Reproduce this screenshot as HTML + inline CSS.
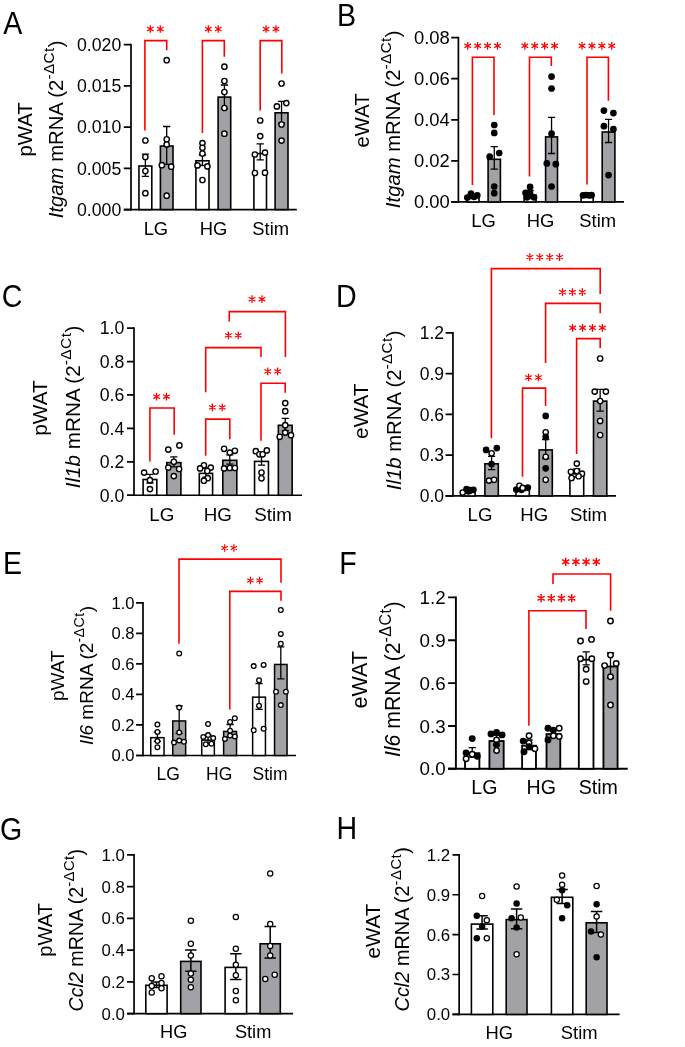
<!DOCTYPE html>
<html><head><meta charset="utf-8"><style>
html,body{margin:0;padding:0;background:#fff;}
svg{display:block;will-change:transform;}
text{font-family:"Liberation Sans", sans-serif;fill:#000;}
</style></head><body>
<svg width="685" height="1047" viewBox="0 0 685 1047">
<rect width="685" height="1047" fill="#fff"/>
<text transform="translate(3.2 33.8) scale(1 1.07)" font-size="28.6">A</text>
<path d="M131 43.8V210.4" stroke="#000" stroke-width="1.7" fill="none"/>
<path d="M123.8 209.55H296.8" stroke="#000" stroke-width="1.7" fill="none"/>
<path d="M123.8 209.55H131M123.8 168.33H131M123.8 127.1H131M123.8 85.88H131M123.8 44.65H131" stroke="#000" stroke-width="1.7" fill="none"/>
<text x="121.3" y="215.83" font-size="17.7" text-anchor="end">0.000</text>
<text x="121.3" y="174.61" font-size="17.7" text-anchor="end">0.005</text>
<text x="121.3" y="133.38" font-size="17.7" text-anchor="end">0.010</text>
<text x="121.3" y="92.16" font-size="17.7" text-anchor="end">0.015</text>
<text x="121.3" y="50.93" font-size="17.7" text-anchor="end">0.020</text>
<text transform="translate(31.8 129.4) rotate(-90)" font-size="20.4" text-anchor="middle">pWAT</text>
<text transform="translate(62.8 129.4) rotate(-90)" font-size="20.29" text-anchor="middle"><tspan font-style="italic">Itgam</tspan> mRNA (2<tspan dy="-8.83" font-size="15.22" letter-spacing="0.46">-&#916;Ct</tspan><tspan dy="8.83">)</tspan></text>
<text x="155.9" y="234.5" font-size="18.4" text-anchor="middle">LG</text>
<text x="213.6" y="234.5" font-size="18.4" text-anchor="middle">HG</text>
<text x="270.7" y="234.5" font-size="18.4" text-anchor="middle">Stim</text>
<rect x="138.95" y="166" width="12.85" height="43.55" fill="#fff" stroke="#000" stroke-width="1.6"/>
<rect x="160.4" y="146" width="12.6" height="63.55" fill="#a2a2a6" stroke="#000" stroke-width="1.6"/>
<rect x="195.9" y="160.8" width="13.1" height="48.75" fill="#fff" stroke="#000" stroke-width="1.6"/>
<rect x="218.1" y="97.1" width="12.6" height="112.45" fill="#a2a2a6" stroke="#000" stroke-width="1.6"/>
<rect x="253.9" y="153.6" width="12.6" height="55.95" fill="#fff" stroke="#000" stroke-width="1.6"/>
<rect x="275.1" y="112.8" width="12.9" height="96.75" fill="#a2a2a6" stroke="#000" stroke-width="1.6"/>
<path d="M145.38 154.1V176.4M141.78 154.1H148.97M141.78 176.4H148.97" stroke="#000" stroke-width="1.3" fill="none"/>
<path d="M166.7 126.5V164.3M163.1 126.5H170.3M163.1 164.3H170.3" stroke="#000" stroke-width="1.3" fill="none"/>
<path d="M202.45 155V165.5M198.85 155H206.05M198.85 165.5H206.05" stroke="#000" stroke-width="1.3" fill="none"/>
<path d="M224.4 85V108.8M220.8 85H228M220.8 108.8H228" stroke="#000" stroke-width="1.3" fill="none"/>
<path d="M260.2 143.8V159.8M256.6 143.8H263.8M256.6 159.8H263.8" stroke="#000" stroke-width="1.3" fill="none"/>
<path d="M281.55 101.4V123.2M277.95 101.4H285.15M277.95 123.2H285.15" stroke="#000" stroke-width="1.3" fill="none"/>
<circle cx="145.38" cy="140.5" r="2.65" fill="#fff" stroke="#000" stroke-width="1.4"/>
<circle cx="145.38" cy="157" r="2.65" fill="#fff" stroke="#000" stroke-width="1.4"/>
<circle cx="145.38" cy="171" r="2.65" fill="#fff" stroke="#000" stroke-width="1.4"/>
<circle cx="145.38" cy="193.2" r="2.65" fill="#fff" stroke="#000" stroke-width="1.4"/>
<circle cx="166.7" cy="60.2" r="2.65" fill="#fff" stroke="#000" stroke-width="1.4"/>
<circle cx="166.7" cy="139.3" r="2.65" fill="#fff" stroke="#000" stroke-width="1.4"/>
<circle cx="166.7" cy="144.4" r="2.65" fill="#fff" stroke="#000" stroke-width="1.4"/>
<circle cx="161.9" cy="165.2" r="2.65" fill="#fff" stroke="#000" stroke-width="1.4"/>
<circle cx="171.2" cy="166.7" r="2.65" fill="#fff" stroke="#000" stroke-width="1.4"/>
<circle cx="166.7" cy="195.7" r="2.65" fill="#fff" stroke="#000" stroke-width="1.4"/>
<circle cx="202.45" cy="143.1" r="2.65" fill="#fff" stroke="#000" stroke-width="1.4"/>
<circle cx="202.45" cy="147.8" r="2.65" fill="#fff" stroke="#000" stroke-width="1.4"/>
<circle cx="202.45" cy="153.5" r="2.65" fill="#fff" stroke="#000" stroke-width="1.4"/>
<circle cx="197.5" cy="165.4" r="2.65" fill="#fff" stroke="#000" stroke-width="1.4"/>
<circle cx="207.4" cy="166.4" r="2.65" fill="#fff" stroke="#000" stroke-width="1.4"/>
<circle cx="202.45" cy="180" r="2.65" fill="#fff" stroke="#000" stroke-width="1.4"/>
<circle cx="224.4" cy="66.7" r="2.65" fill="#fff" stroke="#000" stroke-width="1.4"/>
<circle cx="224.4" cy="81" r="2.65" fill="#fff" stroke="#000" stroke-width="1.4"/>
<circle cx="224.4" cy="92" r="2.65" fill="#fff" stroke="#000" stroke-width="1.4"/>
<circle cx="224.4" cy="108" r="2.65" fill="#fff" stroke="#000" stroke-width="1.4"/>
<circle cx="224.4" cy="133.7" r="2.65" fill="#fff" stroke="#000" stroke-width="1.4"/>
<circle cx="260.2" cy="120.5" r="2.65" fill="#fff" stroke="#000" stroke-width="1.4"/>
<circle cx="260.2" cy="136.1" r="2.65" fill="#fff" stroke="#000" stroke-width="1.4"/>
<circle cx="254.9" cy="154.5" r="2.65" fill="#fff" stroke="#000" stroke-width="1.4"/>
<circle cx="265" cy="152.6" r="2.65" fill="#fff" stroke="#000" stroke-width="1.4"/>
<circle cx="254.9" cy="173" r="2.65" fill="#fff" stroke="#000" stroke-width="1.4"/>
<circle cx="265" cy="172.7" r="2.65" fill="#fff" stroke="#000" stroke-width="1.4"/>
<circle cx="281.55" cy="83.5" r="2.65" fill="#fff" stroke="#000" stroke-width="1.4"/>
<circle cx="276.9" cy="106.4" r="2.65" fill="#fff" stroke="#000" stroke-width="1.4"/>
<circle cx="286.3" cy="103.1" r="2.65" fill="#fff" stroke="#000" stroke-width="1.4"/>
<circle cx="281.55" cy="124.5" r="2.65" fill="#fff" stroke="#000" stroke-width="1.4"/>
<circle cx="281.55" cy="140.6" r="2.65" fill="#fff" stroke="#000" stroke-width="1.4"/>
<path d="M144.9 130.4V40.6H166.7V50.3" stroke="#ff0000" stroke-width="1.6" fill="none"/>
<path d="M202.4 133V40.6H224.3V56.7" stroke="#ff0000" stroke-width="1.6" fill="none"/>
<path d="M260.2 110.6V40.6H281.8V73.4" stroke="#ff0000" stroke-width="1.6" fill="none"/>
<path d="M150.35 25.15L150.35 32.85M147.02 27.07L153.68 30.93M153.68 27.07L147.02 30.93M160.25 25.15L160.25 32.85M156.92 27.07L163.58 30.93M163.58 27.07L156.92 30.93" stroke="#ff0000" stroke-width="1.25" fill="none"/>
<path d="M208.35 25.15L208.35 32.85M205.02 27.07L211.68 30.93M211.68 27.07L205.02 30.93M218.25 25.15L218.25 32.85M214.92 27.07L221.58 30.93M221.58 27.07L214.92 30.93" stroke="#ff0000" stroke-width="1.25" fill="none"/>
<path d="M266.05 25.15L266.05 32.85M262.72 27.07L269.38 30.93M269.38 27.07L262.72 30.93M275.95 25.15L275.95 32.85M272.62 27.07L279.28 30.93M279.28 27.07L272.62 30.93" stroke="#ff0000" stroke-width="1.25" fill="none"/>
<text transform="translate(337 26.1) scale(1 1.07)" font-size="28.6">B</text>
<path d="M458.4 36.8V202.8" stroke="#000" stroke-width="1.7" fill="none"/>
<path d="M451.2 201.95H624" stroke="#000" stroke-width="1.7" fill="none"/>
<path d="M451.2 201.95H458.4M451.2 160.88H458.4M451.2 119.8H458.4M451.2 78.72H458.4M451.2 37.65H458.4" stroke="#000" stroke-width="1.7" fill="none"/>
<text x="449.8" y="208.48" font-size="18.4" text-anchor="end">0.00</text>
<text x="449.8" y="167.41" font-size="18.4" text-anchor="end">0.02</text>
<text x="449.8" y="126.33" font-size="18.4" text-anchor="end">0.04</text>
<text x="449.8" y="85.26" font-size="18.4" text-anchor="end">0.06</text>
<text x="449.8" y="44.18" font-size="18.4" text-anchor="end">0.08</text>
<text transform="translate(369.2 120.4) rotate(-90)" font-size="20.3" text-anchor="middle">eWAT</text>
<text transform="translate(400.3 119.3) rotate(-90)" font-size="20.29" text-anchor="middle"><tspan font-style="italic">Itgam</tspan> mRNA (2<tspan dy="-8.83" font-size="15.22" letter-spacing="0.46">-&#916;Ct</tspan><tspan dy="8.83">)</tspan></text>
<text x="483.6" y="226.9" font-size="18.4" text-anchor="middle">LG</text>
<text x="540.6" y="226.9" font-size="18.4" text-anchor="middle">HG</text>
<text x="597.7" y="226.9" font-size="18.4" text-anchor="middle">Stim</text>
<rect x="467" y="197.3" width="12" height="4.65" fill="#fff" stroke="#000" stroke-width="1.6"/>
<rect x="488.1" y="159.3" width="12.3" height="42.65" fill="#a2a2a6" stroke="#000" stroke-width="1.6"/>
<rect x="524.1" y="195.3" width="12" height="6.65" fill="#fff" stroke="#000" stroke-width="1.6"/>
<rect x="545.6" y="136.9" width="11.9" height="65.05" fill="#a2a2a6" stroke="#000" stroke-width="1.6"/>
<rect x="581.1" y="195.8" width="12.1" height="6.15" fill="#fff" stroke="#000" stroke-width="1.6"/>
<rect x="602.2" y="132" width="12.7" height="69.95" fill="#a2a2a6" stroke="#000" stroke-width="1.6"/>
<path d="M473 195V198.5M469.4 195H476.6M469.4 198.5H476.6" stroke="#000" stroke-width="1.3" fill="none"/>
<path d="M494.25 146.6V169.1M490.65 146.6H497.85M490.65 169.1H497.85" stroke="#000" stroke-width="1.3" fill="none"/>
<path d="M530.1 190.5V198M526.5 190.5H533.7M526.5 198H533.7" stroke="#000" stroke-width="1.3" fill="none"/>
<path d="M551.55 117.3V153.5M547.95 117.3H555.15M547.95 153.5H555.15" stroke="#000" stroke-width="1.3" fill="none"/>
<path d="M587.15 194V196M583.55 194H590.75M583.55 196H590.75" stroke="#000" stroke-width="1.3" fill="none"/>
<path d="M608.55 119.3V142.5M604.95 119.3H612.15M604.95 142.5H612.15" stroke="#000" stroke-width="1.3" fill="none"/>
<circle cx="467.3" cy="197.6" r="3.35" fill="#000"/>
<circle cx="471" cy="193.6" r="3.35" fill="#000"/>
<circle cx="474" cy="196.8" r="3.35" fill="#000"/>
<circle cx="477.3" cy="195.3" r="3.35" fill="#000"/>
<circle cx="494.25" cy="125" r="3.35" fill="#000"/>
<circle cx="494.25" cy="132.9" r="3.35" fill="#000"/>
<circle cx="489.7" cy="156.7" r="3.35" fill="#000"/>
<circle cx="499.2" cy="153" r="3.35" fill="#000"/>
<circle cx="494.25" cy="186.5" r="3.35" fill="#000"/>
<circle cx="494.25" cy="193.2" r="3.35" fill="#000"/>
<circle cx="530.1" cy="186.9" r="3.35" fill="#000"/>
<circle cx="525.5" cy="192.8" r="3.35" fill="#000"/>
<circle cx="530.1" cy="193.6" r="3.35" fill="#000"/>
<circle cx="527" cy="197.3" r="3.35" fill="#000"/>
<circle cx="534" cy="197.3" r="3.35" fill="#000"/>
<circle cx="530.1" cy="196" r="3.35" fill="#000"/>
<circle cx="551.55" cy="76.6" r="3.35" fill="#000"/>
<circle cx="551.55" cy="88.5" r="3.35" fill="#000"/>
<circle cx="551.55" cy="133.7" r="3.35" fill="#000"/>
<circle cx="546.8" cy="163.4" r="3.35" fill="#000"/>
<circle cx="555.8" cy="164.2" r="3.35" fill="#000"/>
<circle cx="551.55" cy="186.5" r="3.35" fill="#000"/>
<circle cx="583" cy="195.3" r="3.35" fill="#000"/>
<circle cx="586" cy="195" r="3.35" fill="#000"/>
<circle cx="589" cy="195.3" r="3.35" fill="#000"/>
<circle cx="591.6" cy="195.2" r="3.35" fill="#000"/>
<circle cx="603.9" cy="110.6" r="3.35" fill="#000"/>
<circle cx="613.4" cy="113.1" r="3.35" fill="#000"/>
<circle cx="603.9" cy="126.2" r="3.35" fill="#000"/>
<circle cx="613.4" cy="129.2" r="3.35" fill="#000"/>
<circle cx="608.55" cy="175.1" r="3.35" fill="#000"/>
<path d="M472.4 185V57.2H494V115" stroke="#ff0000" stroke-width="1.6" fill="none"/>
<path d="M529.5 176.6V57.2H551.3V65.9" stroke="#ff0000" stroke-width="1.6" fill="none"/>
<path d="M587 184.5V57.2H608.4V100.7" stroke="#ff0000" stroke-width="1.6" fill="none"/>
<path d="M467.75 41.95L467.75 49.65M464.42 43.88L471.08 47.72M471.08 43.88L464.42 47.72M477.65 41.95L477.65 49.65M474.32 43.88L480.98 47.72M480.98 43.88L474.32 47.72M487.55 41.95L487.55 49.65M484.22 43.88L490.88 47.72M490.88 43.88L484.22 47.72M497.45 41.95L497.45 49.65M494.12 43.88L500.78 47.72M500.78 43.88L494.12 47.72" stroke="#ff0000" stroke-width="1.25" fill="none"/>
<path d="M524.85 41.95L524.85 49.65M521.52 43.88L528.18 47.72M528.18 43.88L521.52 47.72M534.75 41.95L534.75 49.65M531.42 43.88L538.08 47.72M538.08 43.88L531.42 47.72M544.65 41.95L544.65 49.65M541.32 43.88L547.98 47.72M547.98 43.88L541.32 47.72M554.55 41.95L554.55 49.65M551.22 43.88L557.88 47.72M557.88 43.88L551.22 47.72" stroke="#ff0000" stroke-width="1.25" fill="none"/>
<path d="M582.05 41.95L582.05 49.65M578.72 43.88L585.38 47.72M585.38 43.88L578.72 47.72M591.95 41.95L591.95 49.65M588.62 43.88L595.28 47.72M595.28 43.88L588.62 47.72M601.85 41.95L601.85 49.65M598.52 43.88L605.18 47.72M605.18 43.88L598.52 47.72M611.75 41.95L611.75 49.65M608.42 43.88L615.08 47.72M615.08 43.88L608.42 47.72" stroke="#ff0000" stroke-width="1.25" fill="none"/>
<text transform="translate(1.8 307) scale(1 1.07)" font-size="28.6">C</text>
<path d="M134 327.25V496.1" stroke="#000" stroke-width="1.7" fill="none"/>
<path d="M127 495.25H302.1" stroke="#000" stroke-width="1.7" fill="none"/>
<path d="M127 495.25H134M127 461.82H134M127 428.39H134M127 394.96H134M127 361.53H134M127 328.1H134" stroke="#000" stroke-width="1.7" fill="none"/>
<text x="124.3" y="501.53" font-size="17.7" text-anchor="end">0.0</text>
<text x="124.3" y="468.1" font-size="17.7" text-anchor="end">0.2</text>
<text x="124.3" y="434.67" font-size="17.7" text-anchor="end">0.4</text>
<text x="124.3" y="401.24" font-size="17.7" text-anchor="end">0.6</text>
<text x="124.3" y="367.81" font-size="17.7" text-anchor="end">0.8</text>
<text x="124.3" y="334.38" font-size="17.7" text-anchor="end">1.0</text>
<text transform="translate(47 408) rotate(-90)" font-size="20.8" text-anchor="middle">pWAT</text>
<text transform="translate(80 406.9) rotate(-90)" font-size="20.68" text-anchor="middle"><tspan font-style="italic">Il1b</tspan> mRNA (2<tspan dy="-9" font-size="15.51" letter-spacing="0.47">-&#916;Ct</tspan><tspan dy="9">)</tspan></text>
<text x="161.85" y="521" font-size="18.8" text-anchor="middle">LG</text>
<text x="217.85" y="521" font-size="18.8" text-anchor="middle">HG</text>
<text x="273.05" y="521" font-size="18.8" text-anchor="middle">Stim</text>
<rect x="143.1" y="479.5" width="13.7" height="15.75" fill="#fff" stroke="#000" stroke-width="1.6"/>
<rect x="166.8" y="462.6" width="14.1" height="32.65" fill="#a2a2a6" stroke="#000" stroke-width="1.6"/>
<rect x="199.3" y="473.4" width="13.3" height="21.85" fill="#fff" stroke="#000" stroke-width="1.6"/>
<rect x="222.8" y="460.3" width="14" height="34.95" fill="#a2a2a6" stroke="#000" stroke-width="1.6"/>
<rect x="254.55" y="461.4" width="13.9" height="33.85" fill="#fff" stroke="#000" stroke-width="1.6"/>
<rect x="278.35" y="425.3" width="13.8" height="69.95" fill="#a2a2a6" stroke="#000" stroke-width="1.6"/>
<path d="M149.95 474.3V483M146.35 474.3H153.55M146.35 483H153.55" stroke="#000" stroke-width="1.3" fill="none"/>
<path d="M173.85 456.8V466.8M170.25 456.8H177.45M170.25 466.8H177.45" stroke="#000" stroke-width="1.3" fill="none"/>
<path d="M205.95 468V477.2M202.35 468H209.55M202.35 477.2H209.55" stroke="#000" stroke-width="1.3" fill="none"/>
<path d="M229.8 454.9V464.1M226.2 454.9H233.4M226.2 464.1H233.4" stroke="#000" stroke-width="1.3" fill="none"/>
<path d="M261.5 456V465.2M257.9 456H265.1M257.9 465.2H265.1" stroke="#000" stroke-width="1.3" fill="none"/>
<path d="M285.25 418.4V430.6M281.65 418.4H288.85M281.65 430.6H288.85" stroke="#000" stroke-width="1.3" fill="none"/>
<circle cx="144.1" cy="472.6" r="2.65" fill="#fff" stroke="#000" stroke-width="1.4"/>
<circle cx="155.6" cy="471.5" r="2.65" fill="#fff" stroke="#000" stroke-width="1.4"/>
<circle cx="149.95" cy="480.2" r="2.65" fill="#fff" stroke="#000" stroke-width="1.4"/>
<circle cx="149.95" cy="489.1" r="2.65" fill="#fff" stroke="#000" stroke-width="1.4"/>
<circle cx="168.3" cy="449.6" r="2.65" fill="#fff" stroke="#000" stroke-width="1.4"/>
<circle cx="179.4" cy="445.4" r="2.65" fill="#fff" stroke="#000" stroke-width="1.4"/>
<circle cx="173.85" cy="461.8" r="2.65" fill="#fff" stroke="#000" stroke-width="1.4"/>
<circle cx="168.3" cy="467.6" r="2.65" fill="#fff" stroke="#000" stroke-width="1.4"/>
<circle cx="179.1" cy="469" r="2.65" fill="#fff" stroke="#000" stroke-width="1.4"/>
<circle cx="173.85" cy="476.1" r="2.65" fill="#fff" stroke="#000" stroke-width="1.4"/>
<circle cx="203.9" cy="465.3" r="2.65" fill="#fff" stroke="#000" stroke-width="1.4"/>
<circle cx="200.1" cy="468.4" r="2.65" fill="#fff" stroke="#000" stroke-width="1.4"/>
<circle cx="210.8" cy="467.6" r="2.65" fill="#fff" stroke="#000" stroke-width="1.4"/>
<circle cx="207.3" cy="471" r="2.65" fill="#fff" stroke="#000" stroke-width="1.4"/>
<circle cx="207.7" cy="478.2" r="2.65" fill="#fff" stroke="#000" stroke-width="1.4"/>
<circle cx="203.9" cy="480.7" r="2.65" fill="#fff" stroke="#000" stroke-width="1.4"/>
<circle cx="224.1" cy="448.8" r="2.65" fill="#fff" stroke="#000" stroke-width="1.4"/>
<circle cx="234.9" cy="450.8" r="2.65" fill="#fff" stroke="#000" stroke-width="1.4"/>
<circle cx="229.8" cy="452.6" r="2.65" fill="#fff" stroke="#000" stroke-width="1.4"/>
<circle cx="224.1" cy="468.4" r="2.65" fill="#fff" stroke="#000" stroke-width="1.4"/>
<circle cx="229.8" cy="468" r="2.65" fill="#fff" stroke="#000" stroke-width="1.4"/>
<circle cx="234.9" cy="468" r="2.65" fill="#fff" stroke="#000" stroke-width="1.4"/>
<circle cx="255.8" cy="451.2" r="2.65" fill="#fff" stroke="#000" stroke-width="1.4"/>
<circle cx="266.8" cy="450.4" r="2.65" fill="#fff" stroke="#000" stroke-width="1.4"/>
<circle cx="259.4" cy="454.3" r="2.65" fill="#fff" stroke="#000" stroke-width="1.4"/>
<circle cx="262.6" cy="454.3" r="2.65" fill="#fff" stroke="#000" stroke-width="1.4"/>
<circle cx="261.5" cy="472.5" r="2.65" fill="#fff" stroke="#000" stroke-width="1.4"/>
<circle cx="261.5" cy="478.3" r="2.65" fill="#fff" stroke="#000" stroke-width="1.4"/>
<circle cx="285.25" cy="403.1" r="2.65" fill="#fff" stroke="#000" stroke-width="1.4"/>
<circle cx="285.25" cy="411.2" r="2.65" fill="#fff" stroke="#000" stroke-width="1.4"/>
<circle cx="285.25" cy="425.2" r="2.65" fill="#fff" stroke="#000" stroke-width="1.4"/>
<circle cx="285.25" cy="432.6" r="2.65" fill="#fff" stroke="#000" stroke-width="1.4"/>
<circle cx="279.7" cy="436.8" r="2.65" fill="#fff" stroke="#000" stroke-width="1.4"/>
<circle cx="291" cy="435.2" r="2.65" fill="#fff" stroke="#000" stroke-width="1.4"/>
<path d="M229.3 321.5V311.6H285.4V357" stroke="#ff0000" stroke-width="1.6" fill="none"/>
<path d="M205.7 392.3V347.6H261V357" stroke="#ff0000" stroke-width="1.6" fill="none"/>
<path d="M261 440.7V383.3H285.2V392.8" stroke="#ff0000" stroke-width="1.6" fill="none"/>
<path d="M149.9 461.5V408H174.2V434.7" stroke="#ff0000" stroke-width="1.6" fill="none"/>
<path d="M205.7 455.8V419.1H229.8V439.2" stroke="#ff0000" stroke-width="1.6" fill="none"/>
<path d="M252.05 295.35L252.05 303.05M248.72 297.27L255.38 301.12M255.38 297.27L248.72 301.12M261.95 295.35L261.95 303.05M258.62 297.27L265.28 301.12M265.28 297.27L258.62 301.12" stroke="#ff0000" stroke-width="1.25" fill="none"/>
<path d="M228.35 331.55L228.35 339.25M225.02 333.47L231.68 337.32M231.68 333.47L225.02 337.32M238.25 331.55L238.25 339.25M234.92 333.47L241.58 337.32M241.58 333.47L234.92 337.32" stroke="#ff0000" stroke-width="1.25" fill="none"/>
<path d="M267.75 367.55L267.75 375.25M264.42 369.47L271.08 373.32M271.08 369.47L264.42 373.32M277.65 367.55L277.65 375.25M274.32 369.47L280.98 373.32M280.98 369.47L274.32 373.32" stroke="#ff0000" stroke-width="1.25" fill="none"/>
<path d="M156.55 392.85L156.55 400.55M153.22 394.77L159.88 398.62M159.88 394.77L153.22 398.62M166.45 392.85L166.45 400.55M163.12 394.77L169.78 398.62M169.78 394.77L163.12 398.62" stroke="#ff0000" stroke-width="1.25" fill="none"/>
<path d="M212.35 403.55L212.35 411.25M209.02 405.47L215.68 409.32M215.68 405.47L209.02 409.32M222.25 403.55L222.25 411.25M218.92 405.47L225.58 409.32M225.58 405.47L218.92 409.32" stroke="#ff0000" stroke-width="1.25" fill="none"/>
<text transform="translate(336 306.9) scale(1 1.07)" font-size="28.6">D</text>
<path d="M452.95 331.94V496.8" stroke="#000" stroke-width="1.7" fill="none"/>
<path d="M445.55 495.95H616" stroke="#000" stroke-width="1.7" fill="none"/>
<path d="M445.55 495.95H452.95M445.55 455.16H452.95M445.55 414.37H452.95M445.55 373.58H452.95M445.55 332.79H452.95" stroke="#000" stroke-width="1.7" fill="none"/>
<text x="444" y="502.16" font-size="17.5" text-anchor="end">0.0</text>
<text x="444" y="461.37" font-size="17.5" text-anchor="end">0.3</text>
<text x="444" y="420.58" font-size="17.5" text-anchor="end">0.6</text>
<text x="444" y="379.79" font-size="17.5" text-anchor="end">0.9</text>
<text x="444" y="339" font-size="17.5" text-anchor="end">1.2</text>
<text transform="translate(368.4 411.2) rotate(-90)" font-size="20.8" text-anchor="middle">eWAT</text>
<text transform="translate(401 410.3) rotate(-90)" font-size="20.29" text-anchor="middle"><tspan font-style="italic">Il1b</tspan> mRNA (2<tspan dy="-8.83" font-size="15.22" letter-spacing="0.46">-&#916;Ct</tspan><tspan dy="8.83">)</tspan></text>
<text x="480" y="520.7" font-size="18.6" text-anchor="middle">LG</text>
<text x="534.2" y="520.7" font-size="18.6" text-anchor="middle">HG</text>
<text x="588.5" y="520.7" font-size="18.6" text-anchor="middle">Stim</text>
<rect x="461.9" y="492.1" width="13.2" height="3.85" fill="#fff" stroke="#000" stroke-width="1.6"/>
<rect x="484.9" y="463.8" width="13.4" height="32.15" fill="#a2a2a6" stroke="#000" stroke-width="1.6"/>
<rect x="516" y="489" width="13.3" height="6.95" fill="#fff" stroke="#000" stroke-width="1.6"/>
<rect x="539.1" y="449.9" width="13.2" height="46.05" fill="#a2a2a6" stroke="#000" stroke-width="1.6"/>
<rect x="569.9" y="473.8" width="13.8" height="22.15" fill="#fff" stroke="#000" stroke-width="1.6"/>
<rect x="593.5" y="401.1" width="13.3" height="94.85" fill="#a2a2a6" stroke="#000" stroke-width="1.6"/>
<path d="M468.5 489.5V493M464.9 489.5H472.1M464.9 493H472.1" stroke="#000" stroke-width="1.3" fill="none"/>
<path d="M491.6 456.4V469.6M488 456.4H495.2M488 469.6H495.2" stroke="#000" stroke-width="1.3" fill="none"/>
<path d="M522.65 486V490.5M519.05 486H526.25M519.05 490.5H526.25" stroke="#000" stroke-width="1.3" fill="none"/>
<path d="M545.7 439.5V458.5M542.1 439.5H549.3M542.1 458.5H549.3" stroke="#000" stroke-width="1.3" fill="none"/>
<path d="M576.8 469V477M573.2 469H580.4M573.2 477H580.4" stroke="#000" stroke-width="1.3" fill="none"/>
<path d="M600.15 389.4V411.2M596.55 389.4H603.75M596.55 411.2H603.75" stroke="#000" stroke-width="1.3" fill="none"/>
<circle cx="462.7" cy="492.5" r="2.65" fill="#fff" stroke="#000" stroke-width="1.4"/>
<circle cx="466.5" cy="489" r="3.35" fill="#000"/>
<circle cx="470.3" cy="490.1" r="3.35" fill="#000"/>
<circle cx="473.4" cy="489.8" r="3.35" fill="#000"/>
<circle cx="468.5" cy="491.3" r="3.35" fill="#000"/>
<circle cx="486.1" cy="449.9" r="3.35" fill="#000"/>
<circle cx="491.6" cy="453.3" r="2.65" fill="#fff" stroke="#000" stroke-width="1.4"/>
<circle cx="496.8" cy="448.1" r="3.35" fill="#000"/>
<circle cx="491.6" cy="464" r="3.35" fill="#000"/>
<circle cx="489" cy="480.6" r="2.65" fill="#fff" stroke="#000" stroke-width="1.4"/>
<circle cx="494.1" cy="479.8" r="2.65" fill="#fff" stroke="#000" stroke-width="1.4"/>
<circle cx="516.3" cy="489.5" r="3.35" fill="#000"/>
<circle cx="519.4" cy="485.8" r="2.65" fill="#fff" stroke="#000" stroke-width="1.4"/>
<circle cx="527.8" cy="487.6" r="3.35" fill="#000"/>
<circle cx="521.5" cy="489.8" r="3.35" fill="#000"/>
<circle cx="522.65" cy="487.9" r="2.65" fill="#fff" stroke="#000" stroke-width="1.4"/>
<circle cx="545.7" cy="415.9" r="3.35" fill="#000"/>
<circle cx="545.7" cy="432.3" r="2.65" fill="#fff" stroke="#000" stroke-width="1.4"/>
<circle cx="545.7" cy="436.9" r="3.35" fill="#000"/>
<circle cx="545.7" cy="456.8" r="2.65" fill="#fff" stroke="#000" stroke-width="1.4"/>
<circle cx="545.7" cy="468.3" r="3.35" fill="#000"/>
<circle cx="545.7" cy="479.8" r="2.65" fill="#fff" stroke="#000" stroke-width="1.4"/>
<circle cx="576.8" cy="463.6" r="2.65" fill="#fff" stroke="#000" stroke-width="1.4"/>
<circle cx="570.9" cy="471.8" r="2.65" fill="#fff" stroke="#000" stroke-width="1.4"/>
<circle cx="582" cy="473.7" r="2.65" fill="#fff" stroke="#000" stroke-width="1.4"/>
<circle cx="571.6" cy="478" r="2.65" fill="#fff" stroke="#000" stroke-width="1.4"/>
<circle cx="578.6" cy="476.2" r="2.65" fill="#fff" stroke="#000" stroke-width="1.4"/>
<circle cx="576.8" cy="471" r="2.65" fill="#fff" stroke="#000" stroke-width="1.4"/>
<circle cx="600.15" cy="358.5" r="2.65" fill="#fff" stroke="#000" stroke-width="1.4"/>
<circle cx="594.7" cy="391.6" r="2.65" fill="#fff" stroke="#000" stroke-width="1.4"/>
<circle cx="605.9" cy="391.6" r="2.65" fill="#fff" stroke="#000" stroke-width="1.4"/>
<circle cx="600.15" cy="401" r="2.65" fill="#fff" stroke="#000" stroke-width="1.4"/>
<circle cx="600.15" cy="420.9" r="2.65" fill="#fff" stroke="#000" stroke-width="1.4"/>
<circle cx="600.15" cy="435" r="2.65" fill="#fff" stroke="#000" stroke-width="1.4"/>
<path d="M491.4 438.3V268.6H600.2V293.9" stroke="#ff0000" stroke-width="1.6" fill="none"/>
<path d="M545.6 362.9V303.4H600.2V313.3" stroke="#ff0000" stroke-width="1.6" fill="none"/>
<path d="M576.6 453.9V338.6H600.2V348" stroke="#ff0000" stroke-width="1.6" fill="none"/>
<path d="M522.5 476.7V388.1H545.6V406" stroke="#ff0000" stroke-width="1.6" fill="none"/>
<path d="M529.85 253.25L529.85 260.95M526.52 255.18L533.18 259.03M533.18 255.18L526.52 259.03M539.75 253.25L539.75 260.95M536.42 255.18L543.08 259.03M543.08 255.18L536.42 259.03M549.65 253.25L549.65 260.95M546.32 255.18L552.98 259.03M552.98 255.18L546.32 259.03M559.55 253.25L559.55 260.95M556.22 255.18L562.88 259.03M562.88 255.18L556.22 259.03" stroke="#ff0000" stroke-width="1.25" fill="none"/>
<path d="M562.5 288.35L562.5 296.05M559.17 290.27L565.83 294.12M565.83 290.27L559.17 294.12M572.4 288.35L572.4 296.05M569.07 290.27L575.73 294.12M575.73 290.27L569.07 294.12M582.3 288.35L582.3 296.05M578.97 290.27L585.63 294.12M585.63 290.27L578.97 294.12" stroke="#ff0000" stroke-width="1.25" fill="none"/>
<path d="M572.65 323.95L572.65 331.65M569.32 325.88L575.98 329.73M575.98 325.88L569.32 329.73M582.55 323.95L582.55 331.65M579.22 325.88L585.88 329.73M585.88 325.88L579.22 329.73M592.45 323.95L592.45 331.65M589.12 325.88L595.78 329.73M595.78 325.88L589.12 329.73M602.35 323.95L602.35 331.65M599.02 325.88L605.68 329.73M605.68 325.88L599.02 329.73" stroke="#ff0000" stroke-width="1.25" fill="none"/>
<path d="M528.55 373.65L528.55 381.35M525.22 375.57L531.88 379.43M531.88 375.57L525.22 379.43M538.45 373.65L538.45 381.35M535.12 375.57L541.78 379.43M541.78 375.57L535.12 379.43" stroke="#ff0000" stroke-width="1.25" fill="none"/>
<text transform="translate(2.9 573.8) scale(1 1.07)" font-size="28.6">E</text>
<path d="M143 601.95V756.35" stroke="#000" stroke-width="1.7" fill="none"/>
<path d="M136.1 755.5H296" stroke="#000" stroke-width="1.7" fill="none"/>
<path d="M136.1 755.5H143M136.1 724.96H143M136.1 694.42H143M136.1 663.88H143M136.1 633.34H143M136.1 602.8H143" stroke="#000" stroke-width="1.7" fill="none"/>
<text x="134.5" y="761.39" font-size="16.6" text-anchor="end">0.0</text>
<text x="134.5" y="730.85" font-size="16.6" text-anchor="end">0.2</text>
<text x="134.5" y="700.31" font-size="16.6" text-anchor="end">0.4</text>
<text x="134.5" y="669.77" font-size="16.6" text-anchor="end">0.6</text>
<text x="134.5" y="639.23" font-size="16.6" text-anchor="end">0.8</text>
<text x="134.5" y="608.69" font-size="16.6" text-anchor="end">1.0</text>
<text transform="translate(64 675.7) rotate(-90)" font-size="19" text-anchor="middle">pWAT</text>
<text transform="translate(92.6 675.5) rotate(-90)" font-size="19.01" text-anchor="middle"><tspan font-style="italic">Il6</tspan> mRNA (2<tspan dy="-8.27" font-size="14.26" letter-spacing="0.43">-&#916;Ct</tspan><tspan dy="8.27">)</tspan></text>
<text x="168.3" y="779.6" font-size="17.5" text-anchor="middle">LG</text>
<text x="219.2" y="779.6" font-size="17.5" text-anchor="middle">HG</text>
<text x="270" y="779.6" font-size="17.5" text-anchor="middle">Stim</text>
<rect x="150.75" y="737.65" width="13.3" height="17.85" fill="#fff" stroke="#000" stroke-width="1.5"/>
<rect x="172.75" y="720.95" width="12.9" height="34.55" fill="#a2a2a6" stroke="#000" stroke-width="1.5"/>
<rect x="201.75" y="740.15" width="12.6" height="15.35" fill="#fff" stroke="#000" stroke-width="1.5"/>
<rect x="223.65" y="731.45" width="12.9" height="24.05" fill="#a2a2a6" stroke="#000" stroke-width="1.5"/>
<rect x="252.65" y="697.15" width="12.8" height="58.35" fill="#fff" stroke="#000" stroke-width="1.5"/>
<rect x="274.55" y="664.45" width="12.5" height="91.05" fill="#a2a2a6" stroke="#000" stroke-width="1.5"/>
<path d="M157.4 732.2V741.4M153.8 732.2H161M153.8 741.4H161" stroke="#000" stroke-width="1.3" fill="none"/>
<path d="M179.2 705.9V733.3M175.6 705.9H182.8M175.6 733.3H182.8" stroke="#000" stroke-width="1.3" fill="none"/>
<path d="M208.05 735V744M204.45 735H211.65M204.45 744H211.65" stroke="#000" stroke-width="1.3" fill="none"/>
<path d="M230.1 724.5V737M226.5 724.5H233.7M226.5 737H233.7" stroke="#000" stroke-width="1.3" fill="none"/>
<path d="M259.05 683.5V709.3M255.45 683.5H262.65M255.45 709.3H262.65" stroke="#000" stroke-width="1.3" fill="none"/>
<path d="M280.8 646.8V678.8M277.2 646.8H284.4M277.2 678.8H284.4" stroke="#000" stroke-width="1.3" fill="none"/>
<circle cx="157.4" cy="724.5" r="2.35" fill="#fff" stroke="#000" stroke-width="1.3"/>
<circle cx="157.4" cy="731.9" r="2.35" fill="#fff" stroke="#000" stroke-width="1.3"/>
<circle cx="157.4" cy="741.1" r="2.35" fill="#fff" stroke="#000" stroke-width="1.3"/>
<circle cx="157.4" cy="747.3" r="2.35" fill="#fff" stroke="#000" stroke-width="1.3"/>
<circle cx="179.2" cy="653.5" r="2.35" fill="#fff" stroke="#000" stroke-width="1.3"/>
<circle cx="179.2" cy="707.6" r="2.35" fill="#fff" stroke="#000" stroke-width="1.3"/>
<circle cx="179.2" cy="732.4" r="2.35" fill="#fff" stroke="#000" stroke-width="1.3"/>
<circle cx="174" cy="742.6" r="2.35" fill="#fff" stroke="#000" stroke-width="1.3"/>
<circle cx="179.2" cy="740.6" r="2.35" fill="#fff" stroke="#000" stroke-width="1.3"/>
<circle cx="183.9" cy="741.8" r="2.35" fill="#fff" stroke="#000" stroke-width="1.3"/>
<circle cx="208.05" cy="724" r="2.35" fill="#fff" stroke="#000" stroke-width="1.3"/>
<circle cx="203.3" cy="736.9" r="2.35" fill="#fff" stroke="#000" stroke-width="1.3"/>
<circle cx="208.05" cy="735.1" r="2.35" fill="#fff" stroke="#000" stroke-width="1.3"/>
<circle cx="213.2" cy="738.1" r="2.35" fill="#fff" stroke="#000" stroke-width="1.3"/>
<circle cx="205.8" cy="744.3" r="2.35" fill="#fff" stroke="#000" stroke-width="1.3"/>
<circle cx="211.5" cy="743.8" r="2.35" fill="#fff" stroke="#000" stroke-width="1.3"/>
<circle cx="234.8" cy="718.3" r="2.35" fill="#fff" stroke="#000" stroke-width="1.3"/>
<circle cx="230.1" cy="722" r="2.35" fill="#fff" stroke="#000" stroke-width="1.3"/>
<circle cx="230.1" cy="730.7" r="2.35" fill="#fff" stroke="#000" stroke-width="1.3"/>
<circle cx="224.9" cy="738.9" r="2.35" fill="#fff" stroke="#000" stroke-width="1.3"/>
<circle cx="234.8" cy="736.4" r="2.35" fill="#fff" stroke="#000" stroke-width="1.3"/>
<circle cx="230.1" cy="735.6" r="2.35" fill="#fff" stroke="#000" stroke-width="1.3"/>
<circle cx="253.7" cy="666.1" r="2.35" fill="#fff" stroke="#000" stroke-width="1.3"/>
<circle cx="263.6" cy="664.9" r="2.35" fill="#fff" stroke="#000" stroke-width="1.3"/>
<circle cx="259.05" cy="680.3" r="2.35" fill="#fff" stroke="#000" stroke-width="1.3"/>
<circle cx="259.05" cy="705.8" r="2.35" fill="#fff" stroke="#000" stroke-width="1.3"/>
<circle cx="253.7" cy="730.2" r="2.35" fill="#fff" stroke="#000" stroke-width="1.3"/>
<circle cx="263.6" cy="728.7" r="2.35" fill="#fff" stroke="#000" stroke-width="1.3"/>
<circle cx="280.8" cy="610" r="2.35" fill="#fff" stroke="#000" stroke-width="1.3"/>
<circle cx="280.8" cy="633.9" r="2.35" fill="#fff" stroke="#000" stroke-width="1.3"/>
<circle cx="280.8" cy="643.8" r="2.35" fill="#fff" stroke="#000" stroke-width="1.3"/>
<circle cx="276" cy="691.7" r="2.35" fill="#fff" stroke="#000" stroke-width="1.3"/>
<circle cx="285.9" cy="691.7" r="2.35" fill="#fff" stroke="#000" stroke-width="1.3"/>
<circle cx="280.8" cy="705.1" r="2.35" fill="#fff" stroke="#000" stroke-width="1.3"/>
<path d="M179 643.8V559.1H281V582.7" stroke="#ff0000" stroke-width="1.6" fill="none"/>
<path d="M229.8 709.6V591.4H281V600.8" stroke="#ff0000" stroke-width="1.6" fill="none"/>
<path d="M224.7 544.35L224.7 551.65M221.54 546.17L227.86 549.83M227.86 546.17L221.54 549.83M233.9 544.35L233.9 551.65M230.74 546.17L237.06 549.83M237.06 546.17L230.74 549.83" stroke="#ff0000" stroke-width="1.2" fill="none"/>
<path d="M250.4 576.85L250.4 584.15M247.24 578.67L253.56 582.33M253.56 578.67L247.24 582.33M259.6 576.85L259.6 584.15M256.44 578.67L262.76 582.33M262.76 578.67L256.44 582.33" stroke="#ff0000" stroke-width="1.2" fill="none"/>
<text transform="translate(339.2 573.8) scale(1 1.07)" font-size="28.6">F</text>
<path d="M455.9 596.45V769.75" stroke="#000" stroke-width="1.9" fill="none"/>
<path d="M448.1 768.8H627.7" stroke="#000" stroke-width="1.9" fill="none"/>
<path d="M448.1 768.8H455.9M448.1 725.95H455.9M448.1 683.1H455.9M448.1 640.25H455.9M448.1 597.4H455.9" stroke="#000" stroke-width="1.9" fill="none"/>
<text x="445.7" y="775.47" font-size="18.8" text-anchor="end">0.0</text>
<text x="445.7" y="732.62" font-size="18.8" text-anchor="end">0.3</text>
<text x="445.7" y="689.77" font-size="18.8" text-anchor="end">0.6</text>
<text x="445.7" y="646.92" font-size="18.8" text-anchor="end">0.9</text>
<text x="445.7" y="604.07" font-size="18.8" text-anchor="end">1.2</text>
<text transform="translate(367.1 679.8) rotate(-90)" font-size="21.6" text-anchor="middle">eWAT</text>
<text transform="translate(399.8 679.3) rotate(-90)" font-size="21.28" text-anchor="middle"><tspan font-style="italic">Il6</tspan> mRNA (2<tspan dy="-9.26" font-size="15.96" letter-spacing="0.48">-&#916;Ct</tspan><tspan dy="9.26">)</tspan></text>
<text x="484.4" y="794.4" font-size="19.6" text-anchor="middle">LG</text>
<text x="541.2" y="794.4" font-size="19.6" text-anchor="middle">HG</text>
<text x="598.25" y="794.4" font-size="19.6" text-anchor="middle">Stim</text>
<rect x="465.03" y="753.22" width="14.35" height="15.57" fill="#fff" stroke="#000" stroke-width="1.85"/>
<rect x="489.43" y="741.02" width="14.25" height="27.77" fill="#a2a2a6" stroke="#000" stroke-width="1.85"/>
<rect x="522.12" y="745.72" width="13.85" height="23.07" fill="#fff" stroke="#000" stroke-width="1.85"/>
<rect x="546.52" y="734.12" width="13.75" height="34.67" fill="#a2a2a6" stroke="#000" stroke-width="1.85"/>
<rect x="578.82" y="659.72" width="14.65" height="109.08" fill="#fff" stroke="#000" stroke-width="1.85"/>
<rect x="603.42" y="666.52" width="14.15" height="102.27" fill="#a2a2a6" stroke="#000" stroke-width="1.85"/>
<path d="M472.2 747.6V757M468.6 747.6H475.8M468.6 757H475.8" stroke="#000" stroke-width="1.3" fill="none"/>
<path d="M496.55 735V745M492.95 735H500.15M492.95 745H500.15" stroke="#000" stroke-width="1.3" fill="none"/>
<path d="M529.05 740V749.6M525.45 740H532.65M525.45 749.6H532.65" stroke="#000" stroke-width="1.3" fill="none"/>
<path d="M553.4 729V737.4M549.8 729H557M549.8 737.4H557" stroke="#000" stroke-width="1.3" fill="none"/>
<path d="M586.15 651.8V664.8M582.55 651.8H589.75M582.55 664.8H589.75" stroke="#000" stroke-width="1.3" fill="none"/>
<path d="M610.5 653V678M606.9 653H614.1M606.9 678H614.1" stroke="#000" stroke-width="1.3" fill="none"/>
<circle cx="472.2" cy="738.6" r="3.45" fill="#000"/>
<circle cx="466.1" cy="753" r="3.45" fill="#000"/>
<circle cx="466.1" cy="758.7" r="2.73" fill="#fff" stroke="#000" stroke-width="1.45"/>
<circle cx="472.2" cy="754.3" r="2.73" fill="#fff" stroke="#000" stroke-width="1.45"/>
<circle cx="477.3" cy="756.3" r="3.45" fill="#000"/>
<circle cx="491" cy="733.9" r="3.45" fill="#000"/>
<circle cx="496.55" cy="732.4" r="3.45" fill="#000"/>
<circle cx="502.1" cy="734.9" r="3.45" fill="#000"/>
<circle cx="496.55" cy="739.9" r="2.73" fill="#fff" stroke="#000" stroke-width="1.45"/>
<circle cx="496.55" cy="744.8" r="3.45" fill="#000"/>
<circle cx="496.55" cy="750.6" r="2.73" fill="#fff" stroke="#000" stroke-width="1.45"/>
<circle cx="529.05" cy="735.7" r="2.73" fill="#fff" stroke="#000" stroke-width="1.45"/>
<circle cx="523.2" cy="741.1" r="3.45" fill="#000"/>
<circle cx="529.05" cy="743.1" r="2.73" fill="#fff" stroke="#000" stroke-width="1.45"/>
<circle cx="529.05" cy="746.8" r="3.45" fill="#000"/>
<circle cx="524" cy="751.8" r="3.45" fill="#000"/>
<circle cx="534.9" cy="748.8" r="2.73" fill="#fff" stroke="#000" stroke-width="1.45"/>
<circle cx="548" cy="728.2" r="3.45" fill="#000"/>
<circle cx="553.4" cy="730.2" r="3.45" fill="#000"/>
<circle cx="559.2" cy="728.2" r="2.73" fill="#fff" stroke="#000" stroke-width="1.45"/>
<circle cx="548" cy="739.9" r="3.45" fill="#000"/>
<circle cx="553.4" cy="735.7" r="2.73" fill="#fff" stroke="#000" stroke-width="1.45"/>
<circle cx="559.2" cy="736.4" r="2.73" fill="#fff" stroke="#000" stroke-width="1.45"/>
<circle cx="580.5" cy="641" r="2.73" fill="#fff" stroke="#000" stroke-width="1.45"/>
<circle cx="591.5" cy="639.4" r="2.73" fill="#fff" stroke="#000" stroke-width="1.45"/>
<circle cx="580.5" cy="658.8" r="2.73" fill="#fff" stroke="#000" stroke-width="1.45"/>
<circle cx="591.8" cy="658.8" r="2.73" fill="#fff" stroke="#000" stroke-width="1.45"/>
<circle cx="586.15" cy="669.3" r="2.73" fill="#fff" stroke="#000" stroke-width="1.45"/>
<circle cx="586.15" cy="681.6" r="2.73" fill="#fff" stroke="#000" stroke-width="1.45"/>
<circle cx="610.5" cy="621" r="2.73" fill="#fff" stroke="#000" stroke-width="1.45"/>
<circle cx="610.5" cy="655.1" r="2.73" fill="#fff" stroke="#000" stroke-width="1.45"/>
<circle cx="604.6" cy="665.6" r="2.73" fill="#fff" stroke="#000" stroke-width="1.45"/>
<circle cx="616.2" cy="663.5" r="2.73" fill="#fff" stroke="#000" stroke-width="1.45"/>
<circle cx="610.5" cy="676.7" r="2.73" fill="#fff" stroke="#000" stroke-width="1.45"/>
<circle cx="610.5" cy="705" r="2.73" fill="#fff" stroke="#000" stroke-width="1.45"/>
<path d="M553 584V574H610.6V610.8" stroke="#ff0000" stroke-width="1.6" fill="none"/>
<path d="M528.9 725.7V610.8H586V628.9" stroke="#ff0000" stroke-width="1.6" fill="none"/>
<path d="M565.7 557.65L565.7 565.95M562.11 559.72L569.29 563.88M569.29 559.72L562.11 563.88M575.9 557.65L575.9 565.95M572.31 559.72L579.49 563.88M579.49 559.72L572.31 563.88M586.1 557.65L586.1 565.95M582.51 559.72L589.69 563.88M589.69 559.72L582.51 563.88M596.3 557.65L596.3 565.95M592.71 559.72L599.89 563.88M599.89 559.72L592.71 563.88" stroke="#ff0000" stroke-width="1.5" fill="none"/>
<path d="M541.1 594.05L541.1 602.35M537.51 596.12L544.69 600.28M544.69 596.12L537.51 600.28M551.3 594.05L551.3 602.35M547.71 596.12L554.89 600.28M554.89 596.12L547.71 600.28M561.5 594.05L561.5 602.35M557.91 596.12L565.09 600.28M565.09 596.12L557.91 600.28M571.7 594.05L571.7 602.35M568.11 596.12L575.29 600.28M575.29 596.12L568.11 600.28" stroke="#ff0000" stroke-width="1.5" fill="none"/>
<text transform="translate(0 839.6) scale(1 1.07)" font-size="28.6">G</text>
<path d="M134.05 854.1V1014.5" stroke="#000" stroke-width="1.7" fill="none"/>
<path d="M127.05 1013.65H293.1" stroke="#000" stroke-width="1.7" fill="none"/>
<path d="M127.05 1013.65H134.05M127.05 981.91H134.05M127.05 950.17H134.05M127.05 918.43H134.05M127.05 886.69H134.05M127.05 854.95H134.05" stroke="#000" stroke-width="1.7" fill="none"/>
<text x="124.9" y="1019.61" font-size="16.8" text-anchor="end">0.0</text>
<text x="124.9" y="987.87" font-size="16.8" text-anchor="end">0.2</text>
<text x="124.9" y="956.13" font-size="16.8" text-anchor="end">0.4</text>
<text x="124.9" y="924.39" font-size="16.8" text-anchor="end">0.6</text>
<text x="124.9" y="892.65" font-size="16.8" text-anchor="end">0.8</text>
<text x="124.9" y="860.91" font-size="16.8" text-anchor="end">1.0</text>
<text transform="translate(52.2 929.8) rotate(-90)" font-size="20.2" text-anchor="middle">pWAT</text>
<text transform="translate(82.7 930.2) rotate(-90)" font-size="19.7" text-anchor="middle"><tspan font-style="italic">Ccl2</tspan> mRNA (2<tspan dy="-8.57" font-size="14.77" letter-spacing="0.44">-&#916;Ct</tspan><tspan dy="8.57">)</tspan></text>
<text x="173.7" y="1037.5" font-size="18.2" text-anchor="middle">HG</text>
<text x="253.1" y="1037.5" font-size="18.2" text-anchor="middle">Stim</text>
<rect x="145.8" y="985.3" width="21.3" height="28.35" fill="#fff" stroke="#000" stroke-width="1.6"/>
<rect x="180.7" y="961.4" width="20.3" height="52.25" fill="#a2a2a6" stroke="#000" stroke-width="1.6"/>
<rect x="225.1" y="967.4" width="21.5" height="46.25" fill="#fff" stroke="#000" stroke-width="1.6"/>
<rect x="260.1" y="943.8" width="20.2" height="69.85" fill="#a2a2a6" stroke="#000" stroke-width="1.6"/>
<path d="M156.45 982V987.4M150.75 982H162.15M150.75 987.4H162.15" stroke="#000" stroke-width="1.5" fill="none"/>
<path d="M190.85 949.9V971.3M185.15 949.9H196.55M185.15 971.3H196.55" stroke="#000" stroke-width="1.5" fill="none"/>
<path d="M235.85 953.7V979.5M230.15 953.7H241.55M230.15 979.5H241.55" stroke="#000" stroke-width="1.5" fill="none"/>
<path d="M270.2 926.4V958M264.5 926.4H275.9M264.5 958H275.9" stroke="#000" stroke-width="1.5" fill="none"/>
<circle cx="151.75" cy="978.2" r="2.62" fill="#fff" stroke="#000" stroke-width="1.25"/>
<circle cx="161.5" cy="976.3" r="2.62" fill="#fff" stroke="#000" stroke-width="1.25"/>
<circle cx="161.5" cy="982.9" r="2.62" fill="#fff" stroke="#000" stroke-width="1.25"/>
<circle cx="151.75" cy="986.1" r="2.62" fill="#fff" stroke="#000" stroke-width="1.25"/>
<circle cx="161.5" cy="988.3" r="2.62" fill="#fff" stroke="#000" stroke-width="1.25"/>
<circle cx="151.75" cy="992.6" r="2.62" fill="#fff" stroke="#000" stroke-width="1.25"/>
<circle cx="190.85" cy="920.7" r="2.62" fill="#fff" stroke="#000" stroke-width="1.25"/>
<circle cx="190.85" cy="943.8" r="2.62" fill="#fff" stroke="#000" stroke-width="1.25"/>
<circle cx="190.85" cy="955.5" r="2.62" fill="#fff" stroke="#000" stroke-width="1.25"/>
<circle cx="190.85" cy="973.5" r="2.62" fill="#fff" stroke="#000" stroke-width="1.25"/>
<circle cx="190.85" cy="979.7" r="2.62" fill="#fff" stroke="#000" stroke-width="1.25"/>
<circle cx="190.85" cy="987.2" r="2.62" fill="#fff" stroke="#000" stroke-width="1.25"/>
<circle cx="235.85" cy="917" r="2.62" fill="#fff" stroke="#000" stroke-width="1.25"/>
<circle cx="235.85" cy="948.8" r="2.62" fill="#fff" stroke="#000" stroke-width="1.25"/>
<circle cx="235.85" cy="964.8" r="2.62" fill="#fff" stroke="#000" stroke-width="1.25"/>
<circle cx="235.85" cy="975.2" r="2.62" fill="#fff" stroke="#000" stroke-width="1.25"/>
<circle cx="235.85" cy="990.9" r="2.62" fill="#fff" stroke="#000" stroke-width="1.25"/>
<circle cx="235.85" cy="1000.3" r="2.62" fill="#fff" stroke="#000" stroke-width="1.25"/>
<circle cx="270.2" cy="873.6" r="2.62" fill="#fff" stroke="#000" stroke-width="1.25"/>
<circle cx="270.2" cy="924" r="2.62" fill="#fff" stroke="#000" stroke-width="1.25"/>
<circle cx="270.2" cy="945.9" r="2.62" fill="#fff" stroke="#000" stroke-width="1.25"/>
<circle cx="270.2" cy="955.5" r="2.62" fill="#fff" stroke="#000" stroke-width="1.25"/>
<circle cx="265.3" cy="979" r="2.62" fill="#fff" stroke="#000" stroke-width="1.25"/>
<circle cx="274.7" cy="974.7" r="2.62" fill="#fff" stroke="#000" stroke-width="1.25"/>
<text transform="translate(336.6 839) scale(1 1.07)" font-size="28.6">H</text>
<path d="M459.15 853.99V1015.25" stroke="#000" stroke-width="1.7" fill="none"/>
<path d="M452.45 1014.4H619.6" stroke="#000" stroke-width="1.7" fill="none"/>
<path d="M452.45 1014.4H459.15M452.45 974.51H459.15M452.45 934.62H459.15M452.45 894.73H459.15M452.45 854.84H459.15" stroke="#000" stroke-width="1.7" fill="none"/>
<text x="450.2" y="1020.36" font-size="16.8" text-anchor="end">0.0</text>
<text x="450.2" y="980.47" font-size="16.8" text-anchor="end">0.3</text>
<text x="450.2" y="940.58" font-size="16.8" text-anchor="end">0.6</text>
<text x="450.2" y="900.69" font-size="16.8" text-anchor="end">0.9</text>
<text x="450.2" y="860.8" font-size="16.8" text-anchor="end">1.2</text>
<text transform="translate(379.8 931.1) rotate(-90)" font-size="20.5" text-anchor="middle">eWAT</text>
<text transform="translate(409.4 929.3) rotate(-90)" font-size="19.9" text-anchor="middle"><tspan font-style="italic">Ccl2</tspan> mRNA (2<tspan dy="-8.66" font-size="14.92" letter-spacing="0.45">-&#916;Ct</tspan><tspan dy="8.66">)</tspan></text>
<text x="499.3" y="1039" font-size="18.4" text-anchor="middle">HG</text>
<text x="579.15" y="1039" font-size="18.4" text-anchor="middle">Stim</text>
<rect x="471.4" y="924.1" width="21.4" height="90.3" fill="#fff" stroke="#000" stroke-width="1.6"/>
<rect x="506.2" y="919.6" width="20.8" height="94.8" fill="#a2a2a6" stroke="#000" stroke-width="1.6"/>
<rect x="551.4" y="897.3" width="21.4" height="117.1" fill="#fff" stroke="#000" stroke-width="1.6"/>
<rect x="586.2" y="922.8" width="20.8" height="91.6" fill="#a2a2a6" stroke="#000" stroke-width="1.6"/>
<path d="M482.1 915.8V929M476.4 915.8H487.8M476.4 929H487.8" stroke="#000" stroke-width="1.5" fill="none"/>
<path d="M516.6 908.9V928.7M510.9 908.9H522.3M510.9 928.7H522.3" stroke="#000" stroke-width="1.5" fill="none"/>
<path d="M562.1 889.5V903.5M556.4 889.5H567.8M556.4 903.5H567.8" stroke="#000" stroke-width="1.5" fill="none"/>
<path d="M596.6 911.5V932.4M590.9 911.5H602.3M590.9 932.4H602.3" stroke="#000" stroke-width="1.5" fill="none"/>
<circle cx="482.1" cy="896" r="2.62" fill="#fff" stroke="#000" stroke-width="1.25"/>
<circle cx="476.8" cy="915.8" r="3.25" fill="#000"/>
<circle cx="486.8" cy="920.3" r="2.62" fill="#fff" stroke="#000" stroke-width="1.25"/>
<circle cx="482.1" cy="926.5" r="3.25" fill="#000"/>
<circle cx="476.8" cy="938.2" r="3.25" fill="#000"/>
<circle cx="486.8" cy="938.2" r="2.62" fill="#fff" stroke="#000" stroke-width="1.25"/>
<circle cx="516.6" cy="886.6" r="2.62" fill="#fff" stroke="#000" stroke-width="1.25"/>
<circle cx="516.6" cy="903.4" r="3.25" fill="#000"/>
<circle cx="511.6" cy="918.3" r="3.25" fill="#000"/>
<circle cx="520.8" cy="917.6" r="2.62" fill="#fff" stroke="#000" stroke-width="1.25"/>
<circle cx="516.6" cy="927.5" r="3.25" fill="#000"/>
<circle cx="516.6" cy="954.3" r="2.62" fill="#fff" stroke="#000" stroke-width="1.25"/>
<circle cx="562.1" cy="875.6" r="2.62" fill="#fff" stroke="#000" stroke-width="1.25"/>
<circle cx="562.1" cy="884.8" r="2.62" fill="#fff" stroke="#000" stroke-width="1.25"/>
<circle cx="562.1" cy="890.3" r="3.25" fill="#000"/>
<circle cx="556.8" cy="899.7" r="2.62" fill="#fff" stroke="#000" stroke-width="1.25"/>
<circle cx="567.2" cy="905.2" r="3.25" fill="#000"/>
<circle cx="562.1" cy="918.3" r="3.25" fill="#000"/>
<circle cx="596.6" cy="886.1" r="2.62" fill="#fff" stroke="#000" stroke-width="1.25"/>
<circle cx="596.6" cy="904.2" r="3.25" fill="#000"/>
<circle cx="596.6" cy="916.6" r="2.62" fill="#fff" stroke="#000" stroke-width="1.25"/>
<circle cx="591" cy="931.5" r="3.25" fill="#000"/>
<circle cx="600.9" cy="934.5" r="2.62" fill="#fff" stroke="#000" stroke-width="1.25"/>
<circle cx="596.6" cy="957.3" r="3.25" fill="#000"/>
</svg>
</body></html>
